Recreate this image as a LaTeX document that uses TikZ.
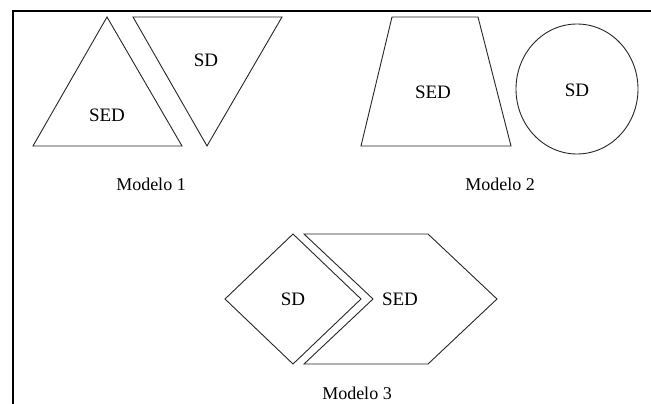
\documentclass[tikz,border=0pt]{standalone}
\usepackage{fontspec}
\setmainfont{Liberation Serif}
\begin{document}
\begin{tikzpicture}[x=1pt,y=-1pt,
  shp/.style={draw=black!85,line width=0.9pt,line join=miter},
  lbl/.style={font=\fontsize{19}{21}\selectfont,inner sep=0pt},
  modcap/.style={font=\fontsize{18}{20}\selectfont,inner sep=0pt}]
\useasboundingbox (0,0) rectangle (651,404);
% frame
\draw[line width=2pt] (13,404) -- (13,11) -- (651,11);
% Modelo 1
\draw[shp] (107,17) -- (33,146) -- (182,146) -- cycle;
\draw[shp] (133,17) -- (282,17) -- (207,146) -- cycle;
\node[lbl] (sed1) at (107,115) {SED};
\node[lbl] (sd1) at (206,60) {SD};
\node[modcap] (m1) at (151,184) {Modelo 1};
% Modelo 2
\draw[shp] (392,17) -- (478,17) -- (511,146) -- (361,146) -- cycle;
\draw[shp] (577,89) ellipse [x radius=61, y radius=65];
\node[lbl] (sed2) at (433,92) {SED};
\node[lbl] (sd2) at (577,90) {SD};
\node[modcap] (m2) at (500,184) {Modelo 2};
% Modelo 3
\draw[shp] (293,234) -- (361,299) -- (293,364) -- (225,299) -- cycle;
\draw[shp] (304,234) -- (428,234) -- (497,299) -- (428,364) -- (304,364) -- (373,299) -- cycle;
\node[lbl] (sd3) at (293,299) {SD};
\node[lbl] (sed3) at (400,299) {SED};
\node[modcap] (m3) at (357,393) {Modelo 3};
\end{tikzpicture}
\end{document}
